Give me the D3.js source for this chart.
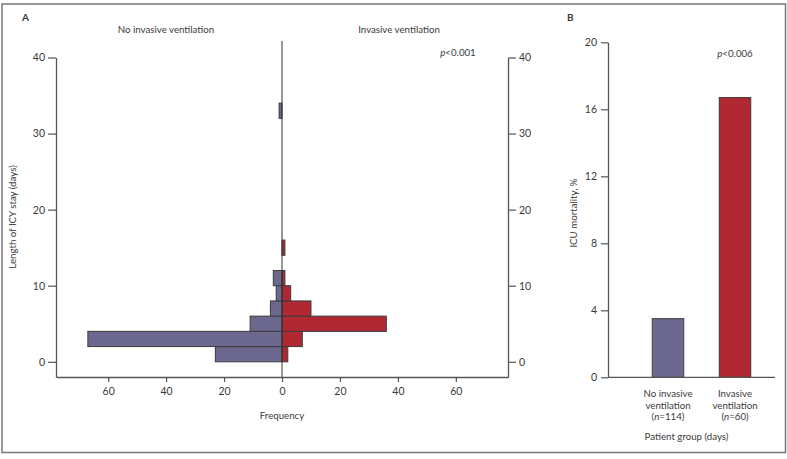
<!DOCTYPE html>
<html><head><meta charset="utf-8">
<script src="https://cdn.jsdelivr.net/npm/d3@7"></script>
<style>
body{margin:0;background:#fff;}
text{font-family:Lato,"Open Sans",sans-serif;fill:#3a3a3a;}
</style></head>
<body><svg id="c" width="787" height="459"></svg>
<script>
// ---- Data ----
const binStart = [0, 2, 4, 6, 8, 10, 14, 32];     // length of ICU stay bins (days), width 2
const binWidth = 2;
const noInvasive = [23, 67, 11, 4, 2, 3, 0, 1];   // frequency, no invasive ventilation
const invasive   = [2, 7, 36, 10, 3, 1, 1, 0];    // frequency, invasive ventilation
const freqTicks = [-60, -40, -20, 0, 20, 40, 60];
const dayTicks = [0, 10, 20, 30, 40];

const groupLines = [["No invasive", "ventilation"], ["Invasive", "ventilation"]];
const groupN = [114, 60];
const mortality = [3.5, 16.7];
const mortTicks = [0, 4, 8, 12, 16, 20];

const purple = "#6d6890", red = "#b12832", edge = "#3b3b3b", axisC = "#555";
const LBL = "9.7px";

const svg = d3.select("#c");
svg.append("rect").attr("x", 2).attr("y", 4).attr("width", 783.5).attr("height", 448.5)
  .attr("fill", "none").attr("stroke", "#777").attr("stroke-width", 1.5);

// ---- Panel A ----
const xA = d3.scaleLinear().domain([-78, 78]).range([56, 508]);
const yA = d3.scaleLinear().domain([-2, 40]).range([377, 57.5]);
const gA = svg.append("g");
const rows = binStart.map((s, i) => ({s, a: noInvasive[i], b: invasive[i]}));

gA.selectAll("rect.l").data(rows.filter(d => d.a > 0)).join("rect")
  .attr("x", d => xA(-d.a)).attr("width", d => xA(0) - xA(-d.a))
  .attr("y", d => yA(d.s + binWidth)).attr("height", d => yA(d.s) - yA(d.s + binWidth))
  .attr("fill", purple).attr("stroke", edge).attr("stroke-width", 1);
gA.selectAll("rect.r").data(rows.filter(d => d.b > 0)).join("rect")
  .attr("x", xA(0)).attr("width", d => xA(d.b) - xA(0))
  .attr("y", d => yA(d.s + binWidth)).attr("height", d => yA(d.s) - yA(d.s + binWidth))
  .attr("fill", red).attr("stroke", edge).attr("stroke-width", 1);

// centre line
gA.append("line").attr("x1", xA(0)).attr("x2", xA(0)).attr("y1", 41).attr("y2", yA(-2))
  .attr("stroke", "#333").attr("stroke-width", 1);

function styleAxis(g) {
  g.select(".domain").attr("stroke", axisC).attr("stroke-width", 1.3);
  g.selectAll(".tick line").attr("stroke", axisC).attr("stroke-width", 1.2);
  g.selectAll("text").style("font-family", "Lato,'Open Sans',sans-serif").style("font-size", "10.5px").attr("fill", "#3a3a3a");
}
const axL = gA.append("g").attr("transform", `translate(${xA(-78)},0)`)
  .call(d3.axisLeft(yA).tickValues(dayTicks).tickSize(8).tickPadding(3).tickSizeOuter(0));
styleAxis(axL);
const axR = gA.append("g").attr("transform", `translate(${xA(78)},0)`)
  .call(d3.axisRight(yA).tickValues(dayTicks).tickSize(8).tickPadding(3).tickSizeOuter(0));
styleAxis(axR);
const axB = gA.append("g").attr("transform", `translate(0,${yA(-2)})`)
  .call(d3.axisBottom(xA).tickValues(freqTicks).tickFormat(d => Math.abs(d)).tickSize(5).tickPadding(6).tickSizeOuter(0));
styleAxis(axB);

gA.append("text").attr("x", 22).attr("y", 21).text("A").style("font-weight", "bold").style("font-size", "10px");
gA.append("text").attr("x", 166).attr("y", 32.5).attr("text-anchor", "middle").style("font-size", LBL).text("No invasive ventilation");
gA.append("text").attr("x", 399).attr("y", 32.5).attr("text-anchor", "middle").style("font-size", LBL).text("Invasive ventilation");
const pA = gA.append("text").attr("x", 458).attr("y", 55.5).attr("text-anchor", "middle").style("font-size", LBL);
pA.append("tspan").style("font-style", "italic").text("p");
pA.append("tspan").text("<0.001");
gA.append("text").attr("x", 282).attr("y", 418.5).attr("text-anchor", "middle").style("font-size", LBL).text("Frequency");
gA.append("text").attr("transform", "translate(15.5,217) rotate(-90)").attr("text-anchor", "middle").style("font-size", LBL).text("Length of ICY stay (days)");

// ---- Panel B ----
const xB = d3.scalePoint().domain([0, 1]).range([668, 735]);
const yB = d3.scaleLinear().domain([0, 20]).range([377.3, 42.3]);
const barW = 31.5;
const gB = svg.append("g");
gB.selectAll("rect").data(mortality).join("rect")
  .attr("x", (d, i) => xB(i) - barW / 2).attr("width", barW)
  .attr("y", d => yB(d)).attr("height", d => yB(0) - yB(d))
  .attr("fill", (d, i) => i === 0 ? purple : red).attr("stroke", edge).attr("stroke-width", 1);
const axBL = gB.append("g").attr("transform", "translate(608,0)")
  .call(d3.axisLeft(yB).tickValues(mortTicks).tickSize(7).tickPadding(4).tickSizeOuter(0));
styleAxis(axBL);
gB.append("line").attr("x1", 608).attr("x2", 775).attr("y1", yB(0)).attr("y2", yB(0))
  .attr("stroke", axisC).attr("stroke-width", 1.3);

gB.append("text").attr("x", 567).attr("y", 21).text("B").style("font-weight", "bold").style("font-size", "10px");
const pB = gB.append("text").attr("x", 735).attr("y", 56.5).attr("text-anchor", "middle").style("font-size", LBL);
pB.append("tspan").style("font-style", "italic").text("p");
pB.append("tspan").text("<0.006");
groupLines.forEach((lines, i) => {
  const t = gB.append("text").attr("x", xB(i)).attr("text-anchor", "middle").style("font-size", LBL);
  lines.forEach((l, j) => t.append("tspan").attr("x", xB(i)).attr("y", 396.5 + j * 12).text(l));
  t.append("tspan").attr("x", xB(i)).attr("y", 396.5 + 2 * 11.8).text("(");
  t.append("tspan").style("font-style", "italic").text("n");
  t.append("tspan").text("=" + groupN[i] + ")");
});
gB.append("text").attr("x", 686.5).attr("y", 440).attr("text-anchor", "middle").style("font-size", LBL).text("Patient group (days)");
gB.append("text").attr("transform", "translate(576.5,213) rotate(-90)").attr("text-anchor", "middle").style("font-size", LBL).text("ICU mortality, %");
</script></body></html>
